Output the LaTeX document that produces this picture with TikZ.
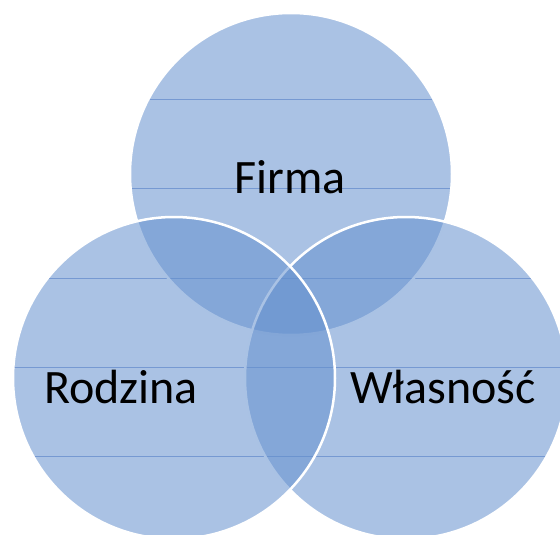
\documentclass[tikz,border=0pt]{standalone}
\usepackage{fontspec}
\setmainfont{Carlito}
\definecolor{venn}{RGB}{100,144,206}
\definecolor{ruleblue}{RGB}{140,165,216}
\begin{document}
\begin{tikzpicture}[x=1pt,y=-1pt,
  vennfill/.style={fill=venn,fill opacity=0.55},
  vennrim/.style={draw=white,line width=2.5pt},
  ruled/.style={draw=ruleblue,line width=0.9pt},
  vennlabel/.style={font=\fontsize{48}{48}\selectfont,anchor=base,text=black,inner sep=0pt}]
\useasboundingbox (0,0) rectangle (560,535);
\clip (0,0) rectangle (560,535);
\def\rad{161pt}
% circle centres
\coordinate (cF) at (291,174);
\coordinate (cR) at (174,378);
\coordinate (cW) at (406,378);
% faint ruled lines showing through the circles
\begin{scope}
  \clip (cF) circle[radius=\rad] (cR) circle[radius=\rad] (cW) circle[radius=\rad];
  \foreach \yy in {99,188,278,367,456}
    \draw[ruled] (0,\yy) -- (560,\yy);
\end{scope}
% translucent discs, each with a white rim
\fill[vennfill] (cF) circle[radius=\rad];
\draw[vennrim] (cF) circle[radius=\rad];
\fill[vennfill] (cW) circle[radius=\rad];
\draw[vennrim] (cW) circle[radius=\rad];
\fill[vennfill] (cR) circle[radius=\rad];
\draw[vennrim] (cR) circle[radius=\rad];
% captions
\node[vennlabel] (firma) at (290,193) {Firma};
\node[vennlabel] (rodzina) at (121,403) {Rodzina};
\node[vennlabel] (wlasnosc) at (443,403) {Własność};
\end{tikzpicture}
\end{document}
